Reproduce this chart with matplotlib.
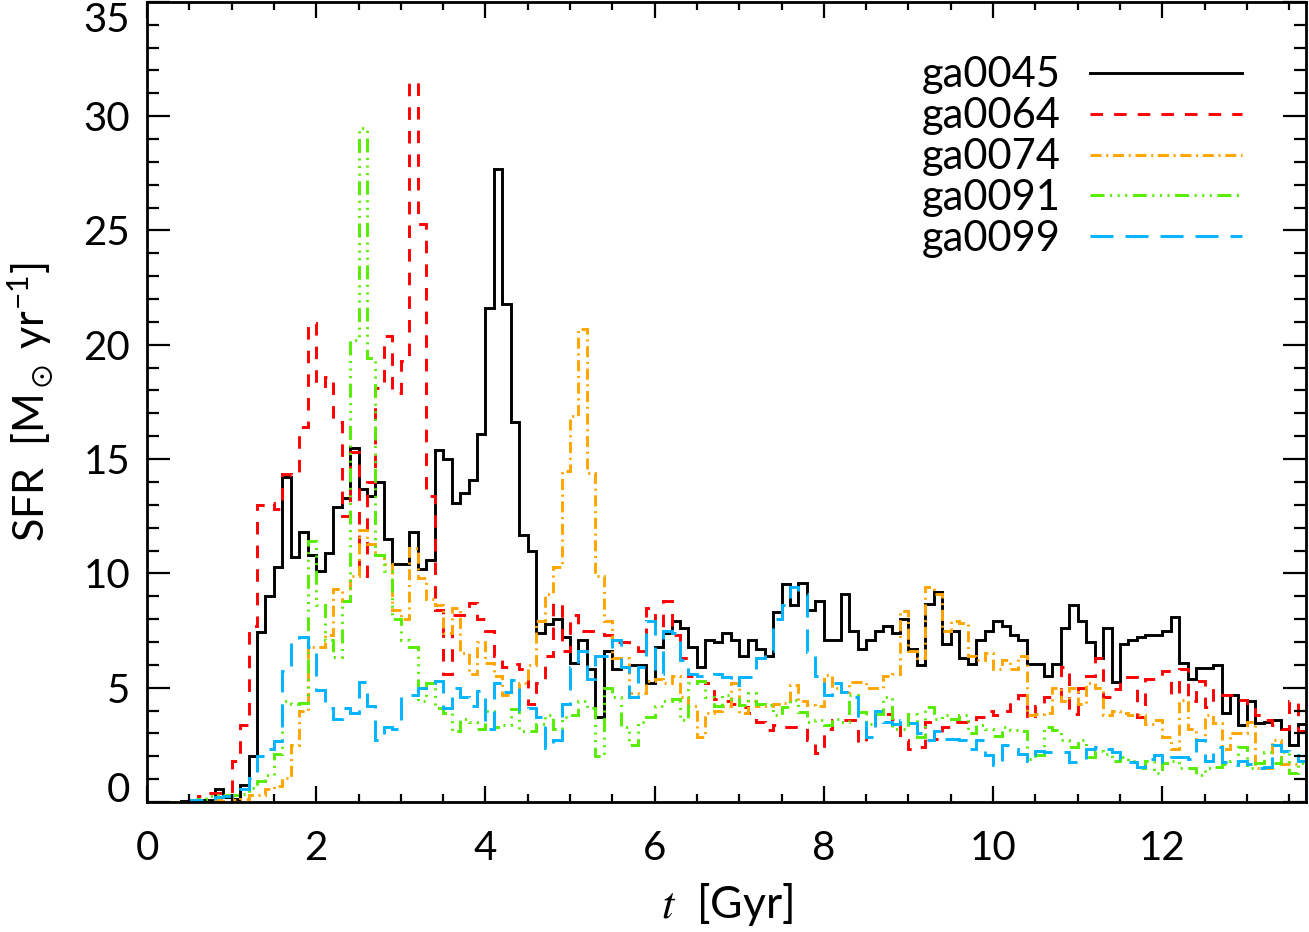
import numpy as np
import matplotlib
matplotlib.use('Agg')
import matplotlib.pyplot as plt
from matplotlib.ticker import MultipleLocator

plt.rcParams['font.family'] = ['Lato', 'DejaVu Sans']
plt.rcParams['mathtext.fontset'] = 'stix'
plt.rcParams['mathtext.default'] = 'regular'

# bin edges in Gyr (0.1 Gyr bins)
t_edges = np.linspace(0, 13.7, 138)

names = ['ga0045', 'ga0064', 'ga0074', 'ga0091', 'ga0099']

sfr_ga0045 = [
    0, 0, 0, 0, 0.05, 0.05, 0.1, 0.1, 0.55, 0.2,
    0.15, 0.74, 2.0, 7.45, 9.0, 10.3, 14.2, 10.7, 11.8, 10.8,
    10.1, 10.9, 12.9, 13.3, 15.5, 13.7, 13.4, 14.0, 11.5, 10.4,
    10.4, 11.8, 10.2, 10.6, 15.4, 15.0, 13.1, 13.5, 14.1, 16.1,
    21.6, 27.7, 21.8, 16.6, 11.7, 11.0, 7.4, 7.8, 8.0, 7.2,
    6.1, 7.1, 5.8, 3.7, 6.6, 5.8, 5.9, 6.0, 6.0, 5.2,
    6.8, 7.4, 7.9, 7.6, 6.8, 5.9, 7.1, 7.0, 7.4, 7.1,
    6.4, 7.1, 6.7, 6.4, 8.3, 9.55, 8.6, 9.6, 8.4, 8.8,
    7.1, 7.1, 9.1, 7.5, 6.7, 7.1, 7.5, 7.7, 7.4, 8.0,
    6.7, 6.0, 8.65, 9.2, 6.9, 7.5, 6.3, 6.05, 7.07, 7.5,
    7.9, 7.7, 7.3, 7.1, 6.05, 6.05, 5.5, 6.05, 7.6, 8.6,
    7.9, 7.0, 6.3, 7.6, 5.25, 6.9, 7.1, 7.2, 7.3, 7.3,
    7.5, 8.1, 6.1, 5.4, 5.85, 5.85, 6.0, 3.9, 4.7, 3.35,
    4.4, 3.45, 3.5, 3.6, 3.2, 2.5, 3.4]

sfr_ga0064 = [
    0, 0, 0, 0, 0, 0.05, 0.27, 0.4, 0.4, 0.5,
    1.8, 3.35, 7.7, 13.0, 13.1, 12.8, 14.35, 14.3, 16.4, 20.96,
    18.2, 18.6, 16.6, 12.5, 15.3, 9.9, 14.0, 18.1, 20.4, 17.9,
    19.3, 31.5, 25.3, 13.4, 8.4, 5.6, 8.2, 8.2, 8.7, 8.0,
    7.5, 6.4, 5.9, 6.05, 5.8, 4.3, 5.2, 6.4, 8.7, 6.6,
    8.2, 7.5, 7.5, 7.5, 7.3, 7.0, 7.0, 6.9, 6.6, 8.5,
    7.6, 8.8, 7.3, 6.3, 5.5, 5.3, 5.2, 4.5, 4.4, 4.3,
    4.16, 3.9, 3.5, 3.15, 3.35, 3.3, 3.3, 3.3, 2.7, 2.15,
    3.2, 3.6, 3.6, 3.6, 2.56, 3.3, 3.8, 3.85, 3.65, 2.7,
    2.3, 2.4, 3.5, 2.75, 3.3, 3.5, 3.5, 3.45, 3.7, 4.0,
    3.8, 4.0, 4.4, 4.7, 3.65, 4.2, 4.6, 4.5, 5.9, 3.85,
    5.0, 5.5, 6.3, 4.6, 4.96, 5.47, 5.47, 3.7, 5.4, 5.4,
    5.75, 4.7, 5.8, 4.4, 5.3, 4.16, 4.9, 4.7, 4.7, 4.45,
    4.16, 3.8, 3.6, 3.35, 3.2, 4.4, 3.1]

sfr_ga0074 = [
    0, 0, 0, 0, 0, 0, 0, 0, 0.1, 0.3,
    0.1, 0.15, 0.3, 0.3, 0.55, 0.7, 1.05, 2.5, 4.0, 6.8,
    6.8, 7.3, 9.3, 8.8, 9.9, 11.9, 11.3, 10.8, 10.4, 8.4,
    8.0, 11.1, 9.8, 8.9, 8.6, 7.4, 8.5, 6.5, 5.6, 7.0,
    6.1, 5.5, 4.7, 4.8, 5.2, 6.0, 7.9, 9.1, 10.3, 14.5,
    16.9, 20.7, 14.4, 9.9, 7.9, 6.3, 6.3, 4.75, 4.75, 5.3,
    5.4, 5.2, 5.5, 4.6, 4.2, 2.85, 3.9, 4.0, 4.2, 5.2,
    3.9, 4.4, 4.2, 4.2, 4.3, 4.35, 5.1, 4.4, 4.25, 4.2,
    5.55, 5.0, 4.8, 5.25, 5.25, 5.0, 5.0, 5.5, 5.6, 8.35,
    6.6, 6.3, 9.4, 9.1, 7.5, 7.9, 7.85, 6.4, 6.2, 6.5,
    5.8, 6.2, 5.8, 6.4, 3.8, 3.85, 3.9, 5.0, 4.4, 5.0,
    4.3, 5.2, 5.0, 3.8, 4.0, 3.9, 3.8, 3.8, 3.4, 3.6,
    2.85, 2.3, 4.45, 3.2, 2.7, 3.8, 3.45, 2.3, 3.0, 3.0,
    3.5, 1.5, 1.5, 2.7, 1.65, 1.65, 1.8]

sfr_ga0091 = [
    0, 0, 0, 0, 0, 0, 0.15, 0.25, 0.3, 0.3,
    0.3, 0.35, 0.6, 0.9, 1.2, 2.1, 4.4, 4.3, 4.35, 11.4,
    8.6, 7.1, 6.35, 8.8, 20.2, 29.5, 19.4, 10.8, 10.1, 8.0,
    7.1, 6.8, 4.4, 5.2, 4.1, 3.9, 3.1, 3.65, 3.5, 3.2,
    4.0, 3.3, 3.35, 4.05, 3.1, 3.1, 3.4, 3.8, 3.2, 3.7,
    3.8, 4.4, 4.1, 2.0, 5.0, 4.6, 3.3, 2.5, 3.5, 3.7,
    4.2, 4.4, 4.5, 3.6, 5.2, 5.3, 4.6, 4.2, 4.7, 4.5,
    4.25, 4.75, 4.3, 4.25, 3.8, 4.16, 4.45, 3.95, 3.5, 3.6,
    3.35, 3.65, 3.5, 4.7, 3.95, 3.4, 3.85, 4.6, 3.2, 3.2,
    3.85, 2.85, 4.15, 3.65, 3.8, 3.65, 3.8, 3.0, 3.35, 3.2,
    2.9, 3.3, 3.15, 3.1, 1.9, 2.05, 3.3, 3.15, 2.7, 2.4,
    2.7, 1.95, 2.25, 2.1, 1.8, 1.95, 1.8, 1.5, 1.8, 1.25,
    1.7, 1.8, 1.5, 1.5, 1.2, 1.5, 1.55, 1.65, 1.8, 2.4,
    1.5, 1.7, 2.2, 1.7, 2.2, 1.25, 1.7]

sfr_ga0099 = [
    0, 0, 0, 0, 0, 0.1, 0.1, 0.1, 0.2, 0.25,
    0.3, 0.55, 1.05, 2.0, 2.3, 2.65, 5.75, 7.0, 7.2, 6.8,
    4.9, 4.1, 3.65, 4.1, 3.9, 5.25, 4.2, 2.7, 3.3, 3.2,
    4.7, 4.7, 5.0, 5.2, 5.3, 4.1, 5.0, 4.6, 4.2, 4.85,
    3.2, 5.2, 4.8, 5.35, 4.0, 4.1, 3.7, 2.35, 2.7, 4.3,
    5.9, 6.6, 5.4, 6.4, 6.4, 7.1, 5.9, 4.6, 5.9, 7.9,
    5.6, 7.5, 7.4, 6.2, 5.6, 5.5, 5.5, 5.6, 5.45, 5.1,
    5.45, 5.45, 6.3, 6.6, 8.0, 8.6, 9.4, 9.1, 6.55, 5.5,
    4.7, 5.2, 4.8, 4.6, 3.6, 2.85, 4.0, 3.5, 3.4, 3.6,
    3.45, 3.0, 2.7, 3.1, 2.75, 2.75, 2.7, 2.3, 2.7, 2.05,
    1.6, 2.5, 2.3, 2.1, 1.8, 2.25, 2.2, 2.2, 2.2, 1.75,
    1.75, 2.3, 2.4, 2.3, 2.2, 1.9, 1.75, 1.55, 1.9, 2.05,
    1.75, 1.95, 1.95, 1.9, 2.7, 1.8, 2.4, 1.75, 1.6, 1.8,
    1.65, 1.5, 1.55, 2.5, 2.25, 2.05, 1.8]

series = [sfr_ga0045, sfr_ga0064, sfr_ga0074, sfr_ga0091, sfr_ga0099]
colors = ['black', '#ff0000', '#ffa500', '#55ee00', '#00b4ff']
styles = ['-',
          (0, (4.3, 3.8)),
          (0, (3.8, 1.6, 0.7, 1.6)),
          (0, (4.8, 1.9, 0.7, 1.9, 0.7, 1.9, 0.7, 1.9)),
          (0, (7.9, 4.1))]

fig = plt.figure(figsize=(13.09, 9.32), dpi=100)
ax = fig.add_axes([0.1123, 0.1395, 0.8855, 0.8585])

for vals, name, c, ls in zip(series, names, colors, styles):
    ax.stairs(vals, t_edges, color=c, linestyle=ls, linewidth=2.1, label=name)

ax.set_xlim(0, 13.7)
ax.set_ylim(0, 35)

ax.xaxis.set_major_locator(MultipleLocator(2))
ax.xaxis.set_minor_locator(MultipleLocator(0.5))
ax.yaxis.set_major_locator(MultipleLocator(5))
ax.yaxis.set_minor_locator(MultipleLocator(1))

ax.tick_params(which='both', direction='in', top=True, right=True, width=1.6,
               labelsize=29)
ax.xaxis.set_tick_params(which='major', length=11.5, pad=20)
ax.xaxis.set_tick_params(which='minor', length=5.5)
ax.yaxis.set_tick_params(which='major', length=16.5, pad=12)
ax.yaxis.set_tick_params(which='minor', length=8.5)
for sp in ax.spines.values():
    sp.set_linewidth(2)

ax.set_xlabel(r'$\mathit{t}$  [Gyr]', fontsize=32, labelpad=10)
ax.set_ylabel(r'SFR  [M$_\odot$ yr$^{-1}$]', fontsize=31, labelpad=20)

leg = ax.legend(loc='upper right', bbox_to_anchor=(0.945, 0.932), frameon=False,
                fontsize=30, markerfirst=False, handlelength=3.65,
                handletextpad=0.7, labelspacing=0.07, borderpad=0,
                borderaxespad=0)

# keep the end labels of the y axis inside the frame
fig.canvas.draw()
for tick in ax.yaxis.get_major_ticks():
    if abs(tick.get_loc()) < 1e-9:
        tick.label1.set_verticalalignment('baseline')
    elif abs(tick.get_loc() - 35) < 1e-9:
        tick.label1.set_verticalalignment('top')

fig.savefig('out.png', dpi=100)
